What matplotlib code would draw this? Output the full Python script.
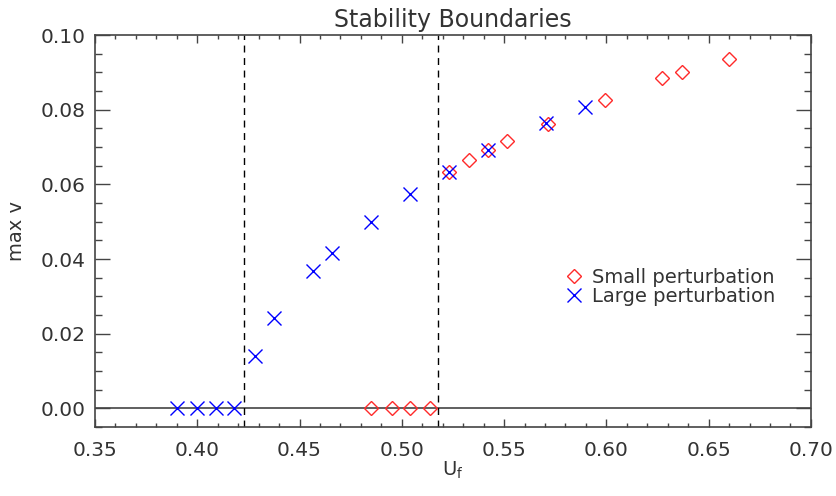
import numpy as np
import matplotlib
matplotlib.use("Agg")
import matplotlib.pyplot as plt
from matplotlib.ticker import MultipleLocator

# data
large_x = [0.390, 0.400, 0.409, 0.418, 0.428, 0.4375, 0.4566, 0.4658, 0.485, 0.504,
           0.523, 0.542, 0.5704, 0.5895]
large_y = [0.0, 0.0, 0.0, 0.0, 0.0140, 0.0242, 0.0368, 0.0417, 0.0500, 0.0573,
           0.0634, 0.0691, 0.0763, 0.0806]
small_x = [0.485, 0.4952, 0.504, 0.5137, 0.523, 0.5328, 0.542, 0.5514, 0.5714,
           0.5993, 0.627, 0.6369, 0.6599]
small_y = [0.0, 0.0, 0.0, 0.0, 0.0634, 0.0664, 0.0691, 0.0715, 0.0761,
           0.0825, 0.0884, 0.0901, 0.0935]
boundaries = [0.4228, 0.5176]

txt = '#333333'
plt.rcParams['font.family'] = ['DejaVu Sans']
plt.rcParams['font.size'] = 14

fig = plt.figure(figsize=(8.36, 4.96), dpi=100)
ax = fig.add_axes([0.1136, 0.1391, 0.970 - 0.1136, 0.9294 - 0.1391])

ax.axhline(0.0, color='#444444', lw=1.2, zorder=1)
for b in boundaries:
    ax.axvline(b, color='black', lw=1.0, ls=(0, (5, 4)), zorder=1)

ax.plot(small_x, small_y, ls='none', marker='D', ms=7, mfc='none', mec='#ff2a2a',
        mew=1.0, label='Small perturbation', zorder=3)
ax.plot(large_x, large_y, ls='none', marker='x', ms=10, mec='#0000ff',
        mew=1.0, label='Large perturbation', zorder=4)

ax.set_xlim(0.35, 0.70)
ax.set_ylim(-0.005, 0.1)
ax.xaxis.set_major_locator(MultipleLocator(0.05))
ax.xaxis.set_minor_locator(MultipleLocator(0.01))
ax.yaxis.set_major_locator(MultipleLocator(0.02))
ax.yaxis.set_minor_locator(MultipleLocator(0.005))
ax.xaxis.set_major_formatter(plt.FormatStrFormatter('%.2f'))
ax.yaxis.set_major_formatter(plt.FormatStrFormatter('%.2f'))
ax.tick_params(which='both', direction='in', top=True, right=True, colors='#444444',
               labelcolor=txt, width=1.0, labelsize=14.5)
ax.tick_params(axis='x', which='major', length=6, pad=10)
ax.tick_params(axis='x', which='minor', length=3)
ax.tick_params(axis='y', which='major', length=11, pad=7)
ax.tick_params(axis='y', which='minor', length=5)
for s in ax.spines.values():
    s.set_color('#444444')
    s.set_linewidth(1.2)

ax.set_title('Stability Boundaries', color=txt, fontsize=17, pad=6)
ax.set_xlabel('U$_\\mathregular{f}$', color=txt)
ax.set_ylabel('max v', color=txt)
ax.xaxis.set_label_coords(0.5, -0.11, transform=ax.transAxes)
ax.yaxis.set_label_coords(-0.109, 0.5, transform=ax.transAxes)
ax.xaxis.label.set_va('center')
ax.yaxis.label.set_va('center')

leg = ax.legend(loc='center left', bbox_to_anchor=(0.645, 0.357), frameon=False,
                handletextpad=0.4, borderaxespad=0, labelspacing=0.0,
                handlelength=1.0, fontsize=14)
for t in leg.get_texts():
    t.set_color(txt)

fig.savefig('out.png', dpi=100)
